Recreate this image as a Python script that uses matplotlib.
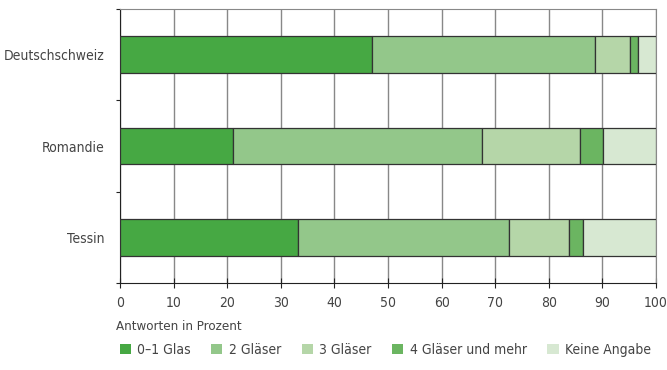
import matplotlib.pyplot as plt
from matplotlib.patches import Patch

plt.rcParams['font.family'] = ['DejaVu Sans']
plt.rcParams['font.stretch'] = 'condensed'

regions = ['Deutschschweiz', 'Romandie', 'Tessin']
categories = ['0–1 Glas', '2 Gläser', '3 Gläser', '4 Gläser und mehr', 'Keine Angabe']
values = {
    '0–1 Glas':          [47.1, 21.0, 33.2],
    '2 Gläser':          [41.5, 46.5, 39.3],
    '3 Gläser':          [6.6, 18.3, 11.2],
    '4 Gläser und mehr': [1.5, 4.4, 2.7],
    'Keine Angabe':      [3.3, 9.8, 13.6],
}
colors = ['#46a843', '#93c78a', '#b5d6a8', '#6bb561', '#d7e8d2']

fig = plt.figure(figsize=(6.67, 3.70), dpi=100)
ax = fig.add_axes([120 / 667, 1 - 283 / 370, 536 / 667, 274 / 370])

ypos = [2.5, 1.5, 0.5]
left = [0, 0, 0]
for cat, col in zip(categories, colors):
    ax.barh(ypos, values[cat], left=left, height=0.4, color=col,
            edgecolor='#333333', linewidth=0.9, zorder=3)
    left = [l + v for l, v in zip(left, values[cat])]

ax.set_xlim(0, 100)
ax.set_ylim(0, 3)
ax.set_xticks(range(0, 101, 10))
ax.set_yticks([0, 1, 2, 3])
ax.set_yticklabels([])
ax.set_yticks(ypos, minor=True)
ax.set_yticklabels(regions, minor=True)
ax.tick_params(axis='y', which='minor', length=0, pad=11, labelsize=10, labelcolor='#444444')
ax.tick_params(axis='y', which='major', length=3, color='#222222')
ax.tick_params(axis='x', direction='inout', length=7, color='#222222',
               labelsize=10, labelcolor='#444444', pad=6)
ax.grid(axis='x', color='#888888', linewidth=1, zorder=0)

for side in ['top', 'right']:
    ax.spines[side].set_color('#888888')
for side in ['left', 'bottom']:
    ax.spines[side].set_color('#222222')

fig.text(116 / 667, 1 - 326 / 370, 'Antworten in Prozent', fontsize=9.5,
         color='#444444', va='center', ha='left')

handles = [Patch(facecolor=c, edgecolor='none') for c in colors]
fig.legend(handles, categories, loc='center left', bbox_to_anchor=(107 / 667, 1 - 350 / 370),
           ncol=5, frameon=False, fontsize=10, handlelength=0.8, handleheight=0.8,
           handletextpad=0.45, columnspacing=1.5, labelcolor='#444444')

fig.savefig('out.png', dpi=100)
